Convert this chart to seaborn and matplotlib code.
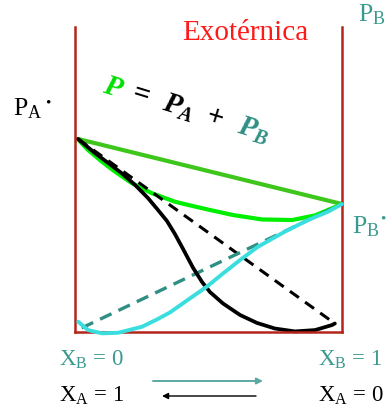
import numpy as np
import pandas as pd
import matplotlib
matplotlib.use('Agg')
import matplotlib.pyplot as plt
import seaborn as sns

# composition axis (X_B) and vapour pressures (P_A* = 1)
xb_total = [0, 0.008, 0.038, 0.091, 0.140, 0.205, 0.280, 0.367, 0.424, 0.5,
            0.587, 0.697, 0.811, 0.898, 0.947, 1.0]
p_total = [1.0, 0.986, 0.943, 0.882, 0.831, 0.770, 0.719, 0.675, 0.656, 0.632,
           0.606, 0.583, 0.580, 0.604, 0.632, 0.663]

xb_a = [0, 0.064, 0.114, 0.167, 0.216, 0.265, 0.303, 0.337, 0.367, 0.398, 0.436,
        0.470, 0.5, 0.549, 0.614, 0.678, 0.746, 0.822, 0.898, 0.962, 0.973]
p_a = [1.0, 0.927, 0.876, 0.821, 0.762, 0.694, 0.632, 0.575, 0.508, 0.430, 0.332,
       0.259, 0.207, 0.148, 0.088, 0.047, 0.018, 0.003, 0.010, 0.036, 0.044]

xb_b = [0.001, 0.038, 0.091, 0.152, 0.242, 0.299, 0.348, 0.424, 0.489, 0.549,
        0.614, 0.682, 0.784, 0.871, 0.947, 1.0]
p_b = [0.053, 0.010, -0.007, -0.004, 0.027, 0.065, 0.101, 0.174, 0.236, 0.303,
       0.373, 0.442, 0.520, 0.580, 0.623, 0.663]

# ideal (Raoult) lines
raoult_x = [0, 1.0]
raoult_total = [1.0, 0.663]
raoult_a_x = [0, 0.973]
raoult_a = [1.0, 0.044]
raoult_b_x = [0.014, 1.0]
raoult_b = [0.021, 0.663]

W, H = 391, 409
RED = '#b3251a'
TEAL = '#2f8f85'
TEAL_TXT = '#3a9a8f'


def fp(x, y):
    """pixel (from top-left) -> figure fraction"""
    return x / W, 1 - y / H


sns.set_style('white')
plt.rcParams['font.family'] = ['Liberation Serif', 'DejaVu Serif']
plt.rcParams['mathtext.fontset'] = 'custom'
plt.rcParams['mathtext.rm'] = 'Liberation Serif'
plt.rcParams['mathtext.it'] = 'Liberation Serif:italic:bold'

fig = plt.figure(figsize=(W / 100, H / 100), dpi=100)
ax = fig.add_axes([75 / W, (H - 332) / H, 267.5 / W, 305 / H])

curves = [
    (raoult_x, raoult_total, '#3fc61c', 3.0, '-'),
    (xb_total, p_total, '#00ee00', 3.0, '-'),
    (raoult_a_x, raoult_a, 'black', 2.2, (0, (3.6, 2.5))),
    (raoult_b_x, raoult_b, TEAL, 2.4, (0, (3.8, 2.3))),
    (xb_a, p_a, 'black', 2.7, '-'),
    (xb_b, p_b, '#3adede', 2.8, '-'),
]
for xs, ys, c, w, ls in curves:
    sns.lineplot(x=xs, y=ys, ax=ax, color=c, estimator=None, clip_on=False)
    ln = ax.lines[-1]
    ln.set_linewidth(w)
    ln.set_linestyle(ls)
ax.lines[-1].set_zorder(5)

ax.set_xlim(-0.0114, 1.002)
ax.set_ylim(0, 1.58)
ax.set_xticks([])
ax.set_yticks([])
ax.set_xlabel('')
ax.set_ylabel('')
ax.spines['top'].set_visible(False)
for s in ['left', 'right', 'bottom']:
    ax.spines[s].set_color(RED)
    ax.spines[s].set_linewidth(1.8)

# titles / labels
fig.text(*fp(182, 40), 'Exotérnica', color='#ff1a1a', fontsize=21, va='baseline')
fig.text(*fp(13, 115), 'P$_\\mathrm{A}$', color='black', fontsize=18.5, va='baseline')
fig.text(*fp(48, 103), '•', color='black', fontsize=11, ha='center', va='center')
fig.text(*fp(358, 21), 'P$_\\mathrm{B}$', color=TEAL_TXT, fontsize=18.5, va='baseline')
fig.text(*fp(352, 233), 'P$_\\mathrm{B}$', color=TEAL_TXT, fontsize=18.5, va='baseline')
fig.text(*fp(383, 219), '•', color=TEAL_TXT, fontsize=11, ha='center', va='center')

# rotated equation P = P_A + P_B
rot = -17
eq = [(102, 92, '$P$', '#00e000'), (131, 100, '=', 'black'),
      (161, 110, '$P_A$', 'black'), (205, 123, '+', 'black'),
      (236, 133, '$P_B$', TEAL)]
for x, y, s, c in eq:
    fig.text(*fp(x, y), s, color=c, fontsize=21, rotation=rot, rotation_mode='anchor',
             ha='left', va='baseline', fontweight='bold')

# composition labels
fig.text(*fp(59, 366), 'X$_\\mathrm{B}$ = 0', color=TEAL_TXT, fontsize=16.5, va='baseline')
fig.text(*fp(318, 366), 'X$_\\mathrm{B}$ = 1', color=TEAL_TXT, fontsize=16.5, va='baseline')
fig.text(*fp(59, 402), 'X$_\\mathrm{A}$ = 1', color='black', fontsize=16.5, va='baseline')
fig.text(*fp(318, 402), 'X$_\\mathrm{A}$ = 0', color='black', fontsize=16.5, va='baseline')

ax.annotate('', xy=fp(263, 381), xytext=fp(153, 381), xycoords='figure fraction',
            arrowprops=dict(arrowstyle='-|>', color='#5aaaa3', lw=1.4, mutation_scale=9,
                            shrinkA=0, shrinkB=0))
ax.annotate('', xy=fp(162, 396), xytext=fp(256, 396), xycoords='figure fraction',
            arrowprops=dict(arrowstyle='-|>', color='black', lw=1.0, mutation_scale=9,
                            shrinkA=0, shrinkB=0))

fig.savefig('out.png', dpi=100)
